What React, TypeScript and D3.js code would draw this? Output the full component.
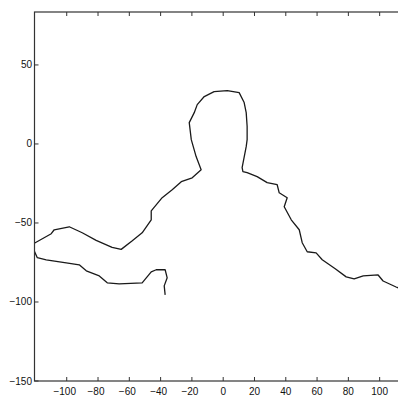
import React from "react";
import * as d3 from "d3";

const X_TICKS = [-100, -80, -60, -40, -20, 0, 20, 40, 60, 80, 100];
const Y_TICKS = [50, 0, -50, -100, -150];

// Outline: hook end -> lower arm -> left edge -> upper arm -> head -> right shoulder
const OUTLINE_X = [
  -37.1, -37.7, -35.8, -37.1, -42.8, -46.0, -51.8, -66.5, -74.1, -79.2, -87.5, -92.0, -100.3, -113.1, -118.8, -120.8,
  -121.0, -109.9, -108.0, -98.4, -90.1, -81.2, -71.0, -65.2, -58.1, -51.8, -46.0, -46.0, -39.0, -32.6, -26.8, -19.8,
  -14.1, -17.3, -20.4, -21.7, -18.5, -16.6, -12.1, -5.8, 2.6, 10.2, 13.4, 14.7, 15.3, 15.3, 14.7, 12.1, 12.6, 15.3,
  21.7, 28.1, 34.5, 35.8, 40.9, 39.0, 43.5, 48.6, 50.5, 53.7, 59.4, 63.3, 71.6, 78.6, 83.7, 89.5, 99.0, 102.2, 110.5, 114,
];
const OUTLINE_Y = [
  -95.5, -89.8, -84.7, -79.6, -79.6, -80.9, -87.9, -88.5, -87.9, -83.5, -80.3, -76.5, -75.2, -73.3, -72.0, -67.6,
  -63.0, -56.8, -54.3, -52.4, -56.2, -61.0, -65.4, -66.7, -61.3, -56.2, -48.0, -42.3, -34.0, -29.0, -23.9, -21.4,
  -16.3, -8.0, 2.7, 13.5, 19.8, 24.9, 30.0, 33.1, 33.8, 32.5, 26.2, 19.8, 11.0, 2.7, -1.7, -15.0, -17.5, -18.2,
  -20.7, -24.5, -25.8, -30.9, -34.0, -39.7, -48.0, -54.3, -62.5, -68.2, -68.9, -73.3, -79.0, -84.1, -85.4, -83.5, -82.9, -86.7, -90.5, -92,
];

const W = 398;
const H = 396;
const LEFT = 34.5;
const RIGHT = 400;
const TOP = 12;
const BOTTOM = 381;

export default function App() {
  const x = d3.scaleLinear().domain([-120.6, 113]).range([LEFT, RIGHT]);
  const y = d3.scaleLinear().domain([-150, 83.5]).range([BOTTOM, TOP]);
  const pts: [number, number][] = OUTLINE_X.map((v, i) => [v, OUTLINE_Y[i]]);
  const line = d3
    .line<[number, number]>()
    .x((d) => x(d[0]))
    .y((d) => y(d[1]));
  const font = "'Liberation Sans', Arial, Helvetica, sans-serif";
  return (
    <svg
      width={W}
      height={H}
      style={{ position: "absolute", left: 0, top: 0, background: "#fff" }}
    >
      <defs>
        <clipPath id="plot">
          <rect x={LEFT} y={TOP} width={RIGHT - LEFT} height={BOTTOM - TOP} />
        </clipPath>
      </defs>
      <path
        d={line(pts) || ""}
        fill="none"
        stroke="#1a1a1a"
        strokeWidth={1.3}
        strokeLinejoin="round"
        clipPath="url(#plot)"
      />
      <rect
        x={LEFT}
        y={TOP}
        width={RIGHT - LEFT}
        height={BOTTOM - TOP}
        fill="none"
        stroke="#333"
        strokeWidth={1.2}
      />
      {X_TICKS.map((t) => (
        <g key={"x" + t}>
          <line x1={x(t)} x2={x(t)} y1={BOTTOM} y2={BOTTOM - 4} stroke="#333" strokeWidth={1} />
          <line x1={x(t)} x2={x(t)} y1={TOP} y2={TOP + 4} stroke="#333" strokeWidth={1} />
          <text
            x={x(t) - (t < 0 ? 2 : 0)}
            y={394.5}
            textAnchor="middle"
            fontSize={10}
            fontFamily={font}
            fill="#111"
          >
            {t < 0 ? "\u2212" + Math.abs(t) : String(t)}
          </text>
        </g>
      ))}
      {Y_TICKS.map((t) => (
        <g key={"y" + t}>
          <line x1={LEFT} x2={LEFT + 4} y1={y(t)} y2={y(t)} stroke="#333" strokeWidth={1} />
          <text
            x={32}
            y={y(t) + 3.5}
            textAnchor="end"
            fontSize={10}
            fontFamily={font}
            fill="#111"
          >
            {t < 0 ? "\u2212" + Math.abs(t) : String(t)}
          </text>
        </g>
      ))}
    </svg>
  );
}
